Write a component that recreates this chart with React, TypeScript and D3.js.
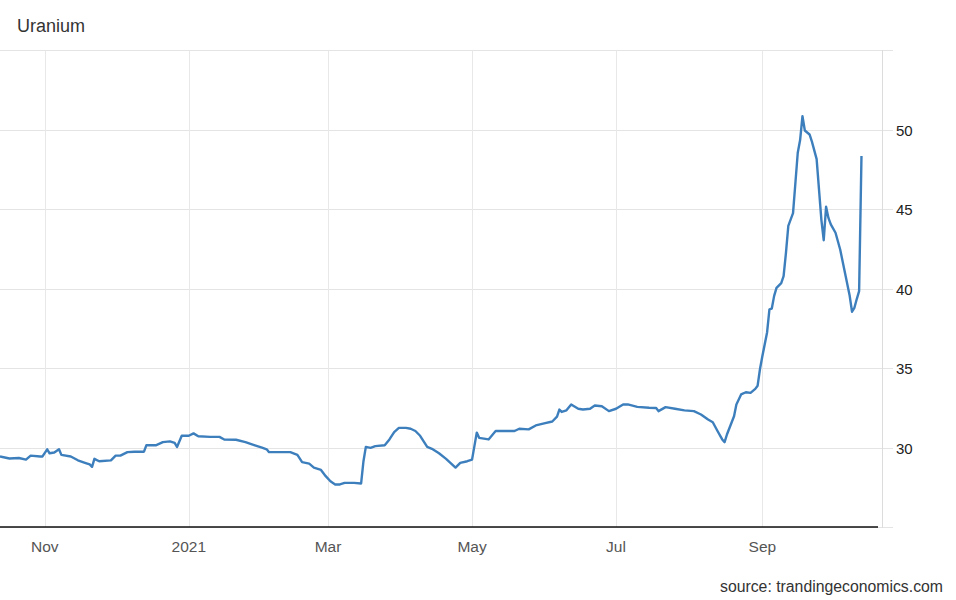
import React from "react";
import * as d3 from "d3";

const title = "Uranium";
const source = "source: trandingeconomics.com";

const dates: string[] = [
  "2020-10-13","2020-10-17","2020-10-21","2020-10-24","2020-10-26","2020-10-30","2020-10-31",
  "2020-11-02","2020-11-03","2020-11-05","2020-11-07","2020-11-08","2020-11-12","2020-11-15",
  "2020-11-18","2020-11-20","2020-11-21","2020-11-22","2020-11-24","2020-11-29","2020-12-01",
  "2020-12-03","2020-12-06","2020-12-09","2020-12-13","2020-12-14","2020-12-18","2020-12-21",
  "2020-12-24","2020-12-26","2020-12-27","2020-12-29","2021-01-01","2021-01-03","2021-01-05",
  "2021-01-10","2021-01-14","2021-01-16","2021-01-21","2021-01-25","2021-01-29","2021-02-01",
  "2021-02-03","2021-02-04","2021-02-07","2021-02-13","2021-02-16","2021-02-18","2021-02-21",
  "2021-02-23","2021-02-26","2021-02-28","2021-03-02","2021-03-04","2021-03-06","2021-03-08",
  "2021-03-12","2021-03-15","2021-03-16","2021-03-17","2021-03-19","2021-03-21","2021-03-25",
  "2021-03-27","2021-03-29","2021-03-31","2021-04-03","2021-04-05","2021-04-07","2021-04-09",
  "2021-04-12","2021-04-14","2021-04-17","2021-04-20","2021-04-24","2021-04-26","2021-04-29",
  "2021-05-01","2021-05-03","2021-05-04","2021-05-08","2021-05-11","2021-05-15","2021-05-19",
  "2021-05-21","2021-05-25","2021-05-28","2021-06-01","2021-06-04","2021-06-06","2021-06-07",
  "2021-06-08","2021-06-10","2021-06-12","2021-06-15","2021-06-17","2021-06-20","2021-06-22",
  "2021-06-25","2021-06-28","2021-07-01","2021-07-04","2021-07-06","2021-07-10","2021-07-15",
  "2021-07-18","2021-07-19","2021-07-22","2021-07-26","2021-07-30","2021-08-03","2021-08-06",
  "2021-08-09","2021-08-11","2021-08-13","2021-08-15","2021-08-16","2021-08-17","2021-08-20",
  "2021-08-21","2021-08-23","2021-08-25","2021-08-27","2021-08-29","2021-08-30","2021-08-31",
  "2021-09-01","2021-09-03","2021-09-04","2021-09-05","2021-09-06","2021-09-07","2021-09-09",
  "2021-09-10","2021-09-11","2021-09-12","2021-09-14","2021-09-15","2021-09-16","2021-09-17",
  "2021-09-18","2021-09-19","2021-09-21","2021-09-22","2021-09-24","2021-09-25","2021-09-26",
  "2021-09-27","2021-09-28","2021-09-29","2021-09-30","2021-10-02","2021-10-04","2021-10-06",
  "2021-10-08","2021-10-09","2021-10-10","2021-10-11","2021-10-12","2021-10-13",
];

const values: number[] = [
  29.5, 29.37, 29.4, 29.3, 29.55, 29.5, 29.5,
  29.95, 29.7, 29.75, 29.95, 29.6, 29.5, 29.26,
  29.1, 29.0, 28.85, 29.35, 29.2, 29.25, 29.55,
  29.55, 29.77, 29.8, 29.8, 30.2, 30.2, 30.4,
  30.45, 30.35, 30.1, 30.8, 30.8, 30.95, 30.77,
  30.73, 30.73, 30.57, 30.55, 30.4, 30.2, 30.05,
  29.95, 29.77, 29.77, 29.77, 29.6, 29.14, 29.05,
  28.8, 28.65, 28.26, 27.94, 27.74, 27.74, 27.84,
  27.84, 27.8, 29.2, 30.1, 30.04, 30.15, 30.2,
  30.57, 31.03, 31.3, 31.3, 31.24, 31.1, 30.8,
  30.1, 29.98, 29.7, 29.35, 28.8, 29.1, 29.2,
  29.3, 31.0, 30.67, 30.57, 31.1, 31.1, 31.1,
  31.24, 31.2, 31.45, 31.6, 31.7, 32.0, 32.45,
  32.3, 32.4, 32.77, 32.5, 32.45, 32.5, 32.7,
  32.66, 32.35, 32.5, 32.77, 32.77, 32.62, 32.56,
  32.55, 32.35, 32.6, 32.5, 32.4, 32.35, 32.14,
  31.82, 31.65, 31.1, 30.57, 30.4, 30.88, 32.03,
  32.77, 33.4, 33.54, 33.5, 33.75, 33.95, 35.0,
  35.8, 37.3, 38.75, 38.8, 39.6, 40.1, 40.4,
  40.84, 42.3, 44.0, 44.8, 46.7, 48.6, 49.4,
  50.9, 50.0, 49.75, 49.3, 48.2, 46.3, 44.4,
  43.1, 45.2, 44.5, 44.1, 43.57, 42.5, 41.05,
  39.6, 38.6, 38.85, 39.4, 39.9, 48.4,
];

const xTickDates: string[] = ["2020-11-01", "2021-01-01", "2021-03-01", "2021-05-01", "2021-07-01", "2021-09-01"];
const xTickLabels: string[] = ["Nov", "2021", "Mar", "May", "Jul", "Sep"];
const yGridValues: number[] = [25, 30, 35, 40, 45, 50, 55];
const yTickLabels: number[] = [30, 35, 40, 45, 50];
const xDomain: string[] = ["2020-10-13", "2021-10-20"];
const yDomain: number[] = [25, 55];

const W = 956;
const H = 600;
const plotLeft = 0;
const plotRight = 878;
const axisX = 882;
const tickEnd = 893;
const plotTop = 51;
const plotBottom = 528;

export default function App() {
  const parse = d3.timeParse("%Y-%m-%d");
  const x = d3
    .scaleTime()
    .domain(xDomain.map((d) => parse(d) as Date))
    .range([plotLeft, plotRight]);
  const y = d3.scaleLinear().domain(yDomain).range([plotBottom, plotTop]);

  const data = dates.map((d, i) => ({ date: parse(d) as Date, value: values[i] }));
  const line = d3
    .line<{ date: Date; value: number }>()
    .x((d) => x(d.date))
    .y((d) => y(d.value));

  const font = "'Liberation Sans', Arial, sans-serif";

  return (
    <svg
      width={W}
      height={H}
      style={{ position: "absolute", left: 0, top: 0, background: "#fff" }}
      fontFamily={font}
    >
      <rect x={0} y={0} width={W} height={H} fill="#fff" />
      <text x={17} y={32} fontSize={18} fill="#333">
        {title}
      </text>

      {/* horizontal gridlines */}
      {yGridValues.map((v) => (
        <line
          key={"hg" + v}
          x1={plotLeft}
          x2={v === 25 ? plotRight : tickEnd}
          y1={Math.round(y(v)) - 0.5}
          y2={Math.round(y(v)) - 0.5}
          stroke="#e4e4e4"
          strokeWidth={1}
        />
      ))}
      <line x1={plotRight} x2={tickEnd} y1={Math.round(y(25)) - 0.5} y2={Math.round(y(25)) - 0.5} stroke="#e4e4e4" />

      {/* vertical gridlines */}
      {xTickDates.map((d) => {
        const xx = Math.round(x(parse(d) as Date)) + 0.5;
        return (
          <line key={"vg" + d} x1={xx} x2={xx} y1={plotTop} y2={plotBottom} stroke="#e8e8e8" strokeWidth={1} />
        );
      })}

      {/* right axis line */}
      <line x1={axisX + 0.5} x2={axisX + 0.5} y1={plotTop - 1} y2={plotBottom} stroke="#dcdcdc" strokeWidth={1} />

      {/* bottom axis */}
      <line x1={plotLeft} x2={plotRight} y1={plotBottom - 1} y2={plotBottom - 1} stroke="#111" strokeWidth={1.6} />

      {/* series */}
      <path d={line(data) || ""} fill="none" stroke="#3d7fbd" strokeWidth={2.4} strokeLinejoin="round" />

      {/* y labels */}
      {yTickLabels.map((v) => (
        <text key={"yl" + v} x={896} y={y(v)} dy="0.36em" fontSize={15} fill="#222">
          {v}
        </text>
      ))}

      {/* x labels */}
      {xTickDates.map((d, i) => (
        <text
          key={"xl" + d}
          x={x(parse(d) as Date)}
          y={552}
          fontSize={15.5}
          fill="#555"
          textAnchor="middle"
        >
          {xTickLabels[i]}
        </text>
      ))}

      <text x={943} y={592} fontSize={15.8} fill="#333" textAnchor="end">
        {source}
      </text>
    </svg>
  );
}
